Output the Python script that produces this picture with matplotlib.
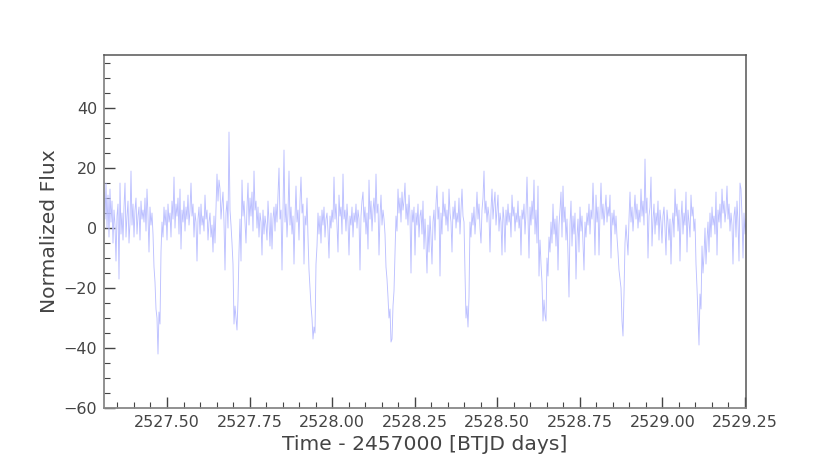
import numpy as np
import matplotlib
matplotlib.use('Agg')
import matplotlib.pyplot as plt
from matplotlib.ticker import MultipleLocator, FormatStrFormatter

# Time range (BTJD) of the light curve, regular cadence
t_start = 2527.3093
t_end = 2529.2530

# Normalized flux values (one per ~pixel column)
flux = [
    12, 3, 15, 0, 11, -3, 13, 2, 9, -5, 6, 1, -11, 4, 8, -17, 15, -2, 5, -4,
    7, 15, -3, 4, 9, -5, 2, 19, 1, 8, -3, 6, 10, -2, 4, 7, -4, 9, 3, 6,
    2, 10, -1, 13, 4, -8, 7, 1, 5, -2, -13, -18, -27, -30, -42, -28, -32, -8, 2, -3,
    7, 1, 6, -4, 8, 2, 5, -3, 9, 3, 17, 0, 8, 4, 10, -2, 13, -7, 6, 2,
    9, -1, 7, 3, 11, 1, 6, 15, 4, 8, -3, 5, 2, -11, 3, 7, -2, 8, 1, 4,
    -1, 11, 3, 6, -4, 2, 5, -3, 1, -8, 4, -5, 6, 18, 9, 16, 13, 3, 8, 12,
    2, -14, 5, 9, 0, 32, 6, 1, -5, -12, -32, -26, -30, -34, -24, -8, 3, -11, 16, 4,
    9, 2, -5, 7, 15, 1, 10, 4, 12, -1, 19, 6, 9, 0, 7, -3, 5, 2, -9, 6,
    -2, 4, 1, -4, 9, 2, -6, 5, -7, 3, 7, -1, 8, 2, 11, 20, 3, 6, -14, 5,
    26, 2, 8, -3, 5, 19, 1, 7, -2, 4, -12, 3, 14, 2, 6, -4, 9, 17, 5, 8,
    -12, 4, 1, 10, -3, -14, -20, -26, -30, -37, -33, -35, -12, -6, 5, -2, 4, -5, 6, 1,
    7, -3, 3, 5, -1, -10, 4, 0, 6, 2, 17, 3, 8, 1, -8, 11, 4, 7, -2, 18,
    3, 6, -1, 8, 2, -9, 4, 1, 7, -3, 5, 2, 8, 0, 6, 3, -14, 4, 9, 12,
    2, 7, -2, 5, -7, 16, 3, 9, -1, 6, 10, 2, 18, 5, 8, -9, 4, 11, 1, 6,
    3, -2, -13, -17, -23, -30, -27, -38, -37, -26, -21, -9, 4, -1, 13, 5, 10, 2, 12, 6,
    9, 15, 3, 8, 1, 11, 4, -15, 6, 2, 7, -9, 5, 1, 8, -3, 4, 6, -2, 9,
    -7, 3, -5, -15, 1, -8, 4, -3, -12, 2, 6, -4, 8, 14, 3, 7, -16, 5, -2, 12,
    4, 8, 1, 6, -1, 13, 5, 2, -8, 7, 3, 9, 0, 5, 2, 10, -2, 6, 13, 4,
    2, -15, -30, -26, -33, -23, 2, -3, 5, 1, 7, -2, 4, 12, 3, 8, 0, -5, 6, 10,
    19, 5, 9, 2, 7, 4, -8, 6, 13, 3, 8, 12, 1, 6, 11, -1, 5, 2, -9, 7,
    3, -8, 6, 1, 8, 2, 5, -3, 11, 4, 7, -1, 5, 2, 9, 0, 4, -9, 6, 3,
    8, -2, 5, 17, 4, -10, 7, 1, 9, 3, 16, -2, 6, -5, 14, -16, -4, -12, -18, -31,
    -24, -29, -31, -10, -16, -3, -8, 2, -5, 8, -2, 3, -6, 4, -14, 1, 6, 12, -3, 14,
    2, 7, -4, 3, -9, -23, 1, 9, -6, 4, -2, 5, -17, -3, 3, -8, 7, -1, 4, -5,
    -14, 2, -3, 5, 1, 8, -2, 6, 3, 15, 4, -9, 11, 2, 7, -9, 5, 15, 3, 8,
    1, 6, 11, 2, 7, 4, 11, -10, 5, 1, 6, -2, 4, -3, -8, -14, -17, -20, -31, -36,
    -22, -5, 1, -4, -9, 3, 12, 2, 7, -1, 5, 11, 3, 8, 0, 6, 2, 13, 4, 9,
    1, 23, 5, 10, -10, 4, 7, 17, -6, 3, 8, -2, 5, 1, 9, -4, 6, 2, -5, 4,
    7, 0, -9, 6, 2, -4, 3, -12, 1, 5, -3, 13, 4, 8, -1, 6, -11, 3, 9, -2,
    5, 1, 12, -8, 6, 2, -3, 11, 4, 7, -1, 3, -12, -20, -29, -39, -22, -27, -6, -15,
    -9, 0, -12, -4, 2, -8, 5, -3, 7, 1, 4, -2, 12, -9, 6, 2, 8, 0, 13, 5,
    9, 2, 6, 14, 3, 8, -1, 5, 1, -12, 4, 7, -3, 9, 2, -11, 15, 13, 4, -10,
    5, -2, 3,
]

time = np.linspace(t_start, t_end, len(flux))

fig = plt.figure(figsize=(8.3, 4.59), dpi=100)
ax = fig.add_axes([104 / 830, 51 / 459, 642 / 830, 353 / 459])

ax.plot(time, flux, color='#bcc0ff', lw=0.65)

ax.set_xlim(t_start, t_end)
ax.set_ylim(-60, 57.7)

ax.xaxis.set_major_locator(MultipleLocator(0.25))
ax.xaxis.set_minor_locator(MultipleLocator(0.05))
ax.xaxis.set_major_formatter(FormatStrFormatter('%.2f'))
ax.yaxis.set_major_locator(MultipleLocator(20))
ax.yaxis.set_minor_locator(MultipleLocator(5))

ax.tick_params(which='both', direction='in', colors='#444444', labelcolor='#444444')
ax.tick_params(which='major', length=8, width=1, labelsize=11.5, pad=5)
ax.tick_params(which='minor', length=4.3, width=0.8)
ax.tick_params(axis='x', which='major', pad=5)

for side in ['left', 'bottom']:
    ax.spines[side].set_color('#888888')
    ax.spines[side].set_linewidth(1.3)
for side in ['top', 'right']:
    ax.spines[side].set_color('#555555')
    ax.spines[side].set_linewidth(1.1)

ax.set_xlabel('Time - 2457000 [BTJD days]', fontsize=14.6, color='#444444', labelpad=4)
ax.set_ylabel('Normalized Flux', fontsize=14.6, color='#444444', labelpad=3)

fig.savefig('out.png', dpi=100)
